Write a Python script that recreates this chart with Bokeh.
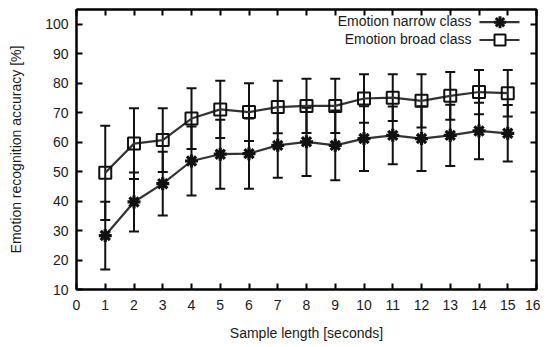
from bokeh.plotting import figure
from bokeh.models import (ColumnDataSource, Whisker, TeeHead, LinearAxis, FixedTicker,
                          Label, Arrow, BoxAnnotation, Range1d)
from bokeh.embed import file_html
from bokeh.resources import INLINE

seconds = list(range(1, 16))
narrow_mean = [28.3, 39.7, 45.9, 53.6, 55.9, 56.1, 58.9, 60.1, 58.9, 61.2, 62.3, 61.2, 62.3, 63.8, 63.0]
narrow_err = [11.5, 10.0, 10.8, 11.7, 11.7, 11.9, 11.0, 11.6, 11.8, 11.0, 9.8, 11.0, 10.4, 9.6, 9.6]
broad_mean = [49.6, 59.5, 60.7, 68.0, 71.1, 70.2, 71.9, 72.3, 72.3, 74.8, 75.1, 74.0, 75.7, 77.0, 76.6]
broad_err = [16.0, 12.0, 10.8, 10.3, 9.7, 9.8, 8.9, 9.2, 9.2, 8.2, 7.9, 9.0, 8.1, 7.5, 7.9]
x_ticks = list(range(0, 17))
y_ticks = list(range(10, 101, 10))
series_labels = ["Emotion narrow class", "Emotion broad class"]

FONT = "Liberation Sans"
TXT = "#1a1a1a"
INK = "#111111"

p = figure(width=541, height=339, output_backend="svg", toolbar_location=None,
           x_range=Range1d(0, 16), y_range=Range1d(10, 105),
           min_border_left=76, min_border_right=4, min_border_top=9, min_border_bottom=10)
p.frame_width = 460
p.frame_height = 280
p.grid.visible = False
p.outline_line_color = "black"
p.outline_line_width = 2
p.background_fill_color = "white"
p.border_fill_color = "white"

nsrc = ColumnDataSource(dict(x=seconds, y=narrow_mean,
                             lo=[m - e for m, e in zip(narrow_mean, narrow_err)],
                             hi=[m + e for m, e in zip(narrow_mean, narrow_err)]))
bsrc = ColumnDataSource(dict(x=seconds, y=broad_mean,
                             lo=[m - e for m, e in zip(broad_mean, broad_err)],
                             hi=[m + e for m, e in zip(broad_mean, broad_err)]))

for src in (nsrc, bsrc):
    w = Whisker(source=src, base="x", upper="hi", lower="lo", dimension="height",
                line_color=INK, line_width=2,
                upper_head=TeeHead(size=10, line_color=INK, line_width=2),
                lower_head=TeeHead(size=10, line_color=INK, line_width=2))
    p.add_layout(w)

p.line("x", "y", source=nsrc, line_color="#333333", line_width=2.2)
p.line("x", "y", source=bsrc, line_color="#333333", line_width=2.2)
p.scatter("x", "y", source=nsrc, marker="asterisk", size=13, line_color=INK, line_width=3.2)
p.scatter("x", "y", source=bsrc, marker="square", size=12, line_color=INK, line_width=2,
          fill_alpha=0)

# axes
for ax in (p.xaxis[0], p.yaxis[0]):
    ax.axis_line_width = 2
    ax.major_tick_in = 6
    ax.major_tick_out = 0
    ax.major_tick_line_width = 2
    ax.minor_tick_line_color = None
    ax.major_label_text_font = FONT
    ax.major_label_text_font_size = "14px"
    ax.major_label_text_color = TXT
    ax.axis_label_text_font = FONT
    ax.axis_label_text_font_size = "14px"
    ax.axis_label_text_font_style = "normal"
    ax.axis_label_text_color = TXT

p.xaxis[0].ticker = FixedTicker(ticks=x_ticks)
p.yaxis[0].ticker = FixedTicker(ticks=y_ticks)
p.xaxis[0].axis_label = "Sample length [seconds]"
p.yaxis[0].axis_label = "Emotion recognition accuracy [%]"
p.xaxis[0].major_label_standoff = 10
p.xaxis[0].axis_label_standoff = 12
p.yaxis[0].major_label_standoff = 8
p.yaxis[0].axis_label_standoff = 18

top_ax = LinearAxis(ticker=FixedTicker(ticks=x_ticks))
right_ax = LinearAxis(ticker=FixedTicker(ticks=y_ticks))
for ax in (top_ax, right_ax):
    ax.axis_line_width = 2
    ax.major_tick_in = 6
    ax.major_tick_out = 0
    ax.major_tick_line_width = 2
    ax.minor_tick_line_color = None
    ax.major_label_text_color = None
    ax.major_label_text_font_size = "1px"
    ax.major_label_standoff = 0
p.add_layout(top_ax, "above")
p.add_layout(right_ax, "right")

# legend (drawn gnuplot style: text then sample to the right)
rows = [268.3, 250.5]
for lab, yy in zip(series_labels, rows):
    p.add_layout(Label(x=395, y=yy, x_units="screen", y_units="screen", text=lab,
                       text_align="right", text_baseline="middle", text_font=FONT,
                       text_font_size="14px", text_color=TXT))
    p.add_layout(Arrow(x_start=403, y_start=yy - 1, x_end=443, y_end=yy - 1,
                       start_units="screen", end_units="screen", end=None,
                       line_color="#333333", line_width=2.2))

cx, cy, r = 423.5, rows[0] - 1, 6
for dx0, dy0, dx1, dy1 in [(-r, 0, r, 0), (0, -r, 0, r), (-4.2, -4.2, 4.2, 4.2), (-4.2, 4.2, 4.2, -4.2)]:
    p.add_layout(Arrow(x_start=cx + dx0, y_start=cy + dy0, x_end=cx + dx1, y_end=cy + dy1,
                       start_units="screen", end_units="screen", end=None,
                       line_color=INK, line_width=3))
cy2 = rows[1] - 1
p.add_layout(BoxAnnotation(left=cx - 5.5, right=cx + 5.5, bottom=cy2 - 5.5, top=cy2 + 5.5,
                           left_units="screen", right_units="screen",
                           bottom_units="screen", top_units="screen",
                           fill_color="white", fill_alpha=1, line_color=INK, line_width=2,
                           line_alpha=1))

open("out.html", "w").write(file_html(p, INLINE))
